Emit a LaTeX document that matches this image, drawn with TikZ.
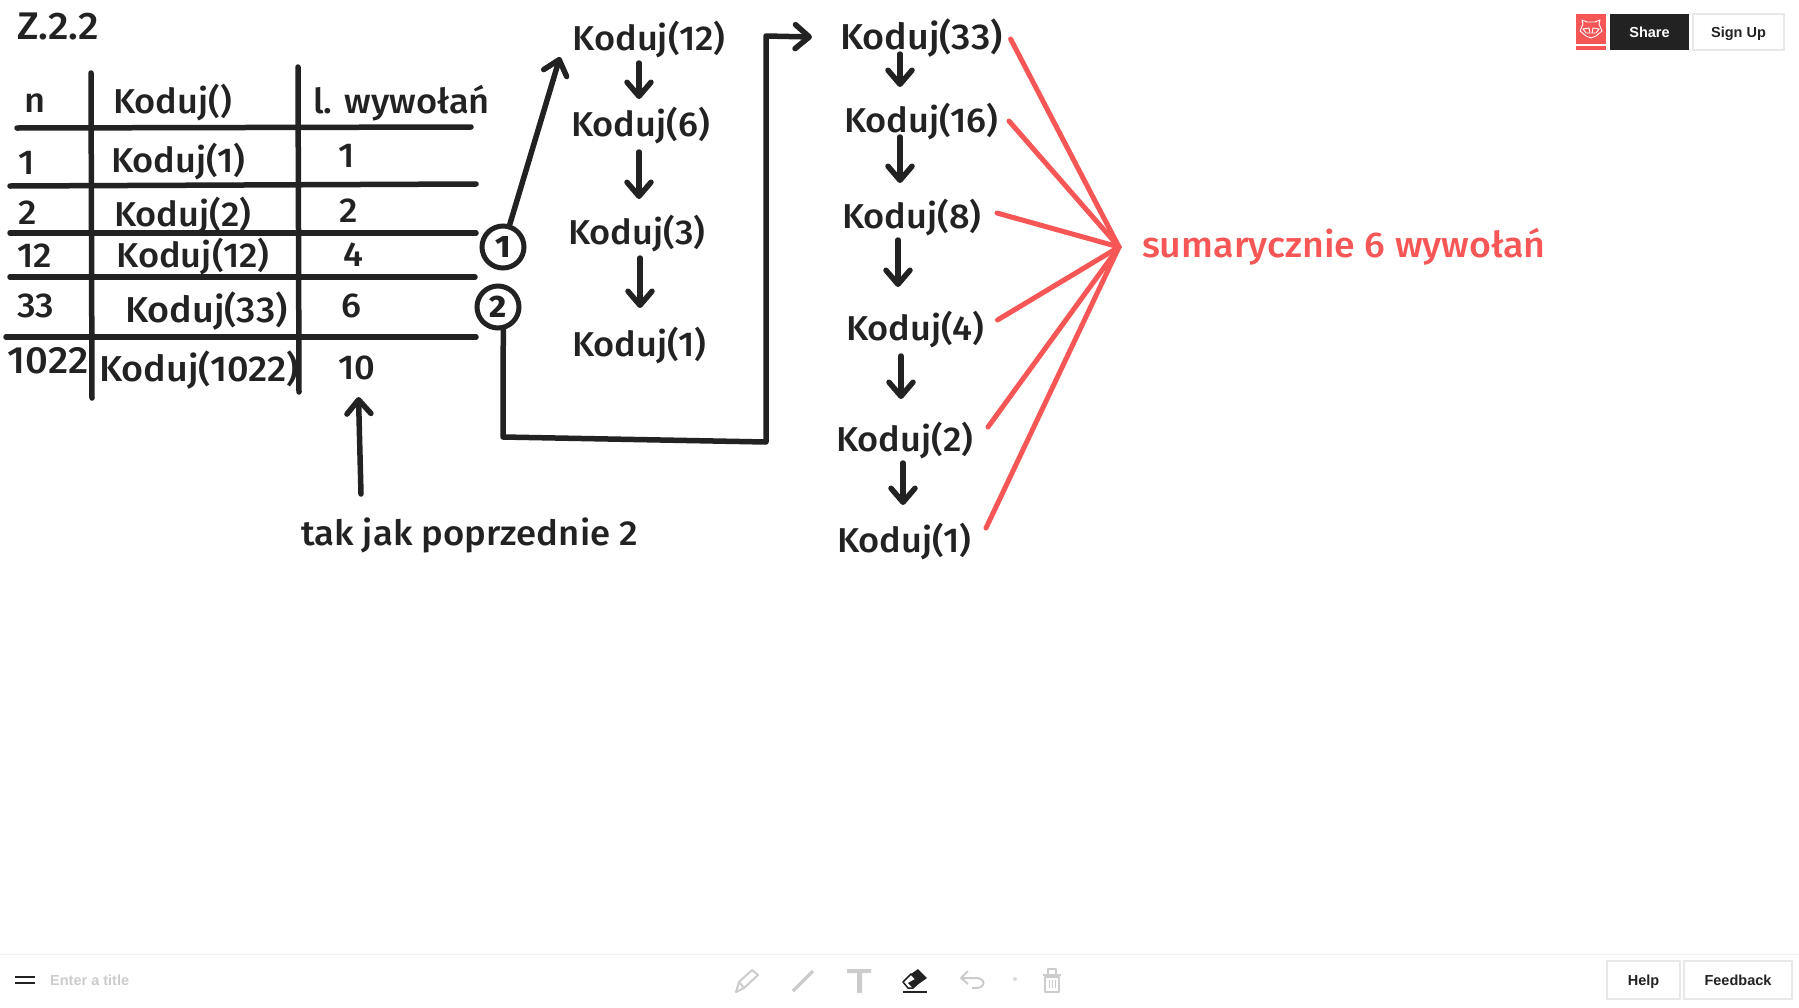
\documentclass[tikz,border=0pt]{standalone}
\usepackage{fontspec}
\setmainfont{Fira Sans Medium}[FakeStretch=1.05]
\newfontfamily\uifont{Liberation Sans}[BoldFont={Liberation Sans Bold}]
\usetikzlibrary{arrows.meta}
\definecolor{ink}{HTML}{222222}
\definecolor{redpen}{HTML}{F65656}
\definecolor{uigrey}{HTML}{CCCCCC}
\definecolor{uiline}{HTML}{E8E8E8}
\newcommand{\hw}{\fontsize{34.5}{40}\selectfont}
\newcommand{\hwd}{\fontsize{36}{40}\selectfont}
\tikzset{
  txt/.style={anchor=base west,inner sep=0pt,outer sep=0pt,text=ink,font=\hw,yshift=-0.8pt},
  txtd/.style={txt,font=\hwd},
  rule/.style={draw=ink,line width=5.5pt,line cap=round},
  pen/.style={draw=ink,line width=5.5pt,line cap=round,line join=round},
  arr/.style={pen,-{Straight Barb[length=14pt,width=24pt,round]}},
  rpen/.style={draw=redpen,line width=5pt,line cap=round},
  circ/.style={circle,draw=ink,line width=5pt,minimum size=42pt,inner sep=0pt,text=ink,font=\fontsize{31}{32}\selectfont\bfseries},
  btn/.style={draw=uiline,line width=1.5pt,fill=white},
  uitxt/.style={inner sep=0pt,text height=10.5pt,text depth=0pt,font=\uifont\fontsize{14.5}{16}\selectfont\bfseries,text=ink},
  tool/.style={draw=uigrey,line width=2pt,line join=round},
}
\begin{document}
\begin{tikzpicture}[x=1pt,y=-1pt]
\useasboundingbox (0,0) rectangle (1799,1007);
% table
\draw[rule] (91,73) -- (92,398);
\draw[rule] (298,67) -- (299,392);
\draw[rule] (17,128) -- (471,127);
\draw[rule] (10,186) -- (476,184);
\draw[rule] (10,233) -- (476,233);
\draw[rule] (10,277) -- (475,277);
\draw[rule] (6,337) -- (476,337);
\node[txt,font=\fontsize{38.5}{40}\selectfont] (title) at (17,39) {Z.2.2};
\node[txt] (hn) at (24,112) {n};
\node[txt] (hk) at (113,113) {Koduj()};
\node[txt] (hl) at (313,113) {l. wywołań};
\node[txt] (n1) at (18,174) {1};
\node[txt] (k1) at (111,172) {Koduj(1)};
\node[txt] (w1) at (338,167) {1};
\node[txt] (n2) at (18,224) {2};
\node[txt] (k2) at (114,226) {Koduj(2)};
\node[txt] (w2) at (339,222) {2};
\node[txt] (n12) at (17,267) {12};
\node[txt] (k12) at (116.5,267) {Koduj(12)};
\node[txt] (w12) at (343,266) {4};
\node[txt] (n33) at (17,317) {33};
\node[txt,font=\hwd] (k33) at (125,322) {Koduj(33)};
\node[txt] (w33) at (341.5,317) {6};
\node[txt,font=\fontsize{38}{40}\selectfont] (n1022) at (8,373) {1022};
\node[txt,font=\hwd] (k1022) at (99,381) {Koduj(1022)};
\node[txt] (w1022) at (338,379) {10};
% circles
\node[circ] (c1) at (503,247) {1};
\node[circ] (c2) at (498,307) {2};
% first chain
\node[txt] (a12) at (572.6,50) {Koduj(12)};
\node[txt] (a6) at (571,136) {Koduj(6)};
\node[txt] (a3) at (568,244) {Koduj(3)};
\node[txt] (a1) at (572,356) {Koduj(1)};
% second chain
\node[txtd] (b33) at (840,49) {Koduj(33)};
\node[txt] (b16) at (844,132) {Koduj(16)};
\node[txt] (b8) at (842,228) {Koduj(8)};
\node[txt] (b4) at (846,340) {Koduj(4)};
\node[txt] (b2) at (836,451) {Koduj(2)};
\node[txt] (b1) at (837,552) {Koduj(1)};
\node[txt,font=\fontsize{34.8}{40}\selectfont] (note) at (301,545) {tak jak poprzednie 2};
\node[txt,text=redpen,font=\fontsize{35.8}{40}\selectfont] (sum) at (1142,257) {sumarycznie 6 wywołań};
% connector end points
\coordinate (t1) at (560,57);
\coordinate (t2) at (812,37);
\coordinate (cr1) at (503,437);
\coordinate (cr2) at (766,442);
\coordinate (cr3) at (766,36);
\coordinate (up1) at (361,494);
\coordinate (up2) at (358.5,397);
\coordinate (hub) at (1119,247);
\draw[arr] (c1) -- (t1);
\draw[arr] (c2.-77) -- (cr1) -- (cr2) -- (cr3) -- (t2);
\draw[arr] (up1) -- (up2);
% chain arrows
\foreach \nm/\x/\ya/\yb in {p1/639/63/99,p2/639/152/199,p3/640/258/308,q1/900/54/87,q2/900/137/183,q3/898/240/287,q4/901/356/399,q5/903/463/505}{
  \coordinate (\nm s) at (\x,\ya);
  \coordinate (\nm e) at (\x,\yb);
  \draw[arr] (\nm s) -- (\nm e);
}
% red fan
\foreach \nm/\x/\y in {r1/1010.6/39,r2/1009/121,r3/997/213,r4/997.5/320,r5/988/427,r6/986/528}{
  \coordinate (\nm) at (\x,\y);
  \draw[rpen] (\nm) -- (hub);
}
% top-right UI
\fill[redpen] (1576,14) rectangle (1606,44);
\fill[redpen] (1576,46) rectangle (1606,50);
\draw[white,line width=0.9pt,line join=round] (1580,31) -- (1583,24) -- (1582,20) -- (1587,22) -- (1595,22) -- (1600,20) -- (1599,24) -- (1602,31) -- (1596,36) -- (1591,38) -- (1586,36) -- cycle;
\draw[white,line width=0.9pt] (1583,29) -- (1589,28) -- (1590,33) -- (1586,33) -- cycle (1599,29) -- (1593,28) -- (1592,33) -- (1596,33) -- cycle;
\node[fill=ink,minimum width=79pt,minimum height=36pt,inner sep=0pt] (share) at (1649.5,32) {};
\node[uitxt,text=white] (sharet) at (share) {Share};
\node[btn,minimum width=91pt,minimum height=36pt,inner sep=0pt] (sign) at (1738.5,32) {};
\node[uitxt] (signt) at (sign) {Sign Up};
% bottom bar
\draw[draw=uiline!60,line width=1pt] (0,954) -- (1799,954);
\draw[ink,line width=1.8pt] (15,977) -- (35,977) (15,983) -- (35,983);
\node[uitxt,text=uigrey,anchor=west] (ttl) at (50,980) {Enter a title};
% pencil
\draw[tool] (736,992) -- (739,982) -- (752,970) -- (758,975) -- (744,988) -- cycle (739,982) -- (744,988);
% line tool
\draw[draw=uigrey,line width=3.5pt] (793,991) -- (813,971);
% T tool
\fill[uigrey] (847,969) rectangle (871,973) (857,969) rectangle (862,993);
% eraser
\fill[ink] (911,974) -- (918,969) -- (927,978) -- (913,988) -- (908,983) -- (915,979) -- cycle;
\draw[ink,line width=1.5pt,line join=round] (903,982) -- (911,974) -- (919,982) -- (913,988) -- (908,988) -- cycle;
\draw[ink,line width=2.5pt] (903,992) -- (927,992);
% undo
\draw[tool] (968,971) -- (961,978) -- (968,984) (961,978) -- (976,978) .. controls (986,978) and (986,988) .. (976,988) -- (972,988);
\fill[uigrey!70] (1015,979) circle (2pt);
% trash
\draw[tool] (1045,977) rectangle (1059,992) (1043,975) -- (1061,975) (1048,974) -- (1048,969) -- (1056,969) -- (1056,974);
\draw[draw=uigrey,line width=1pt] (1049,980) -- (1049,988) (1052,980) -- (1052,988) (1055,980) -- (1055,988);
\node[btn,minimum width=73pt,minimum height=38pt,inner sep=0pt] (help) at (1643.5,980) {};
\node[uitxt] (helpt) at (help) {Help};
\node[btn,minimum width=108pt,minimum height=38pt,inner sep=0pt] (fb) at (1738,980) {};
\node[uitxt] (fbt) at (fb) {Feedback};
\end{tikzpicture}
\end{document}
